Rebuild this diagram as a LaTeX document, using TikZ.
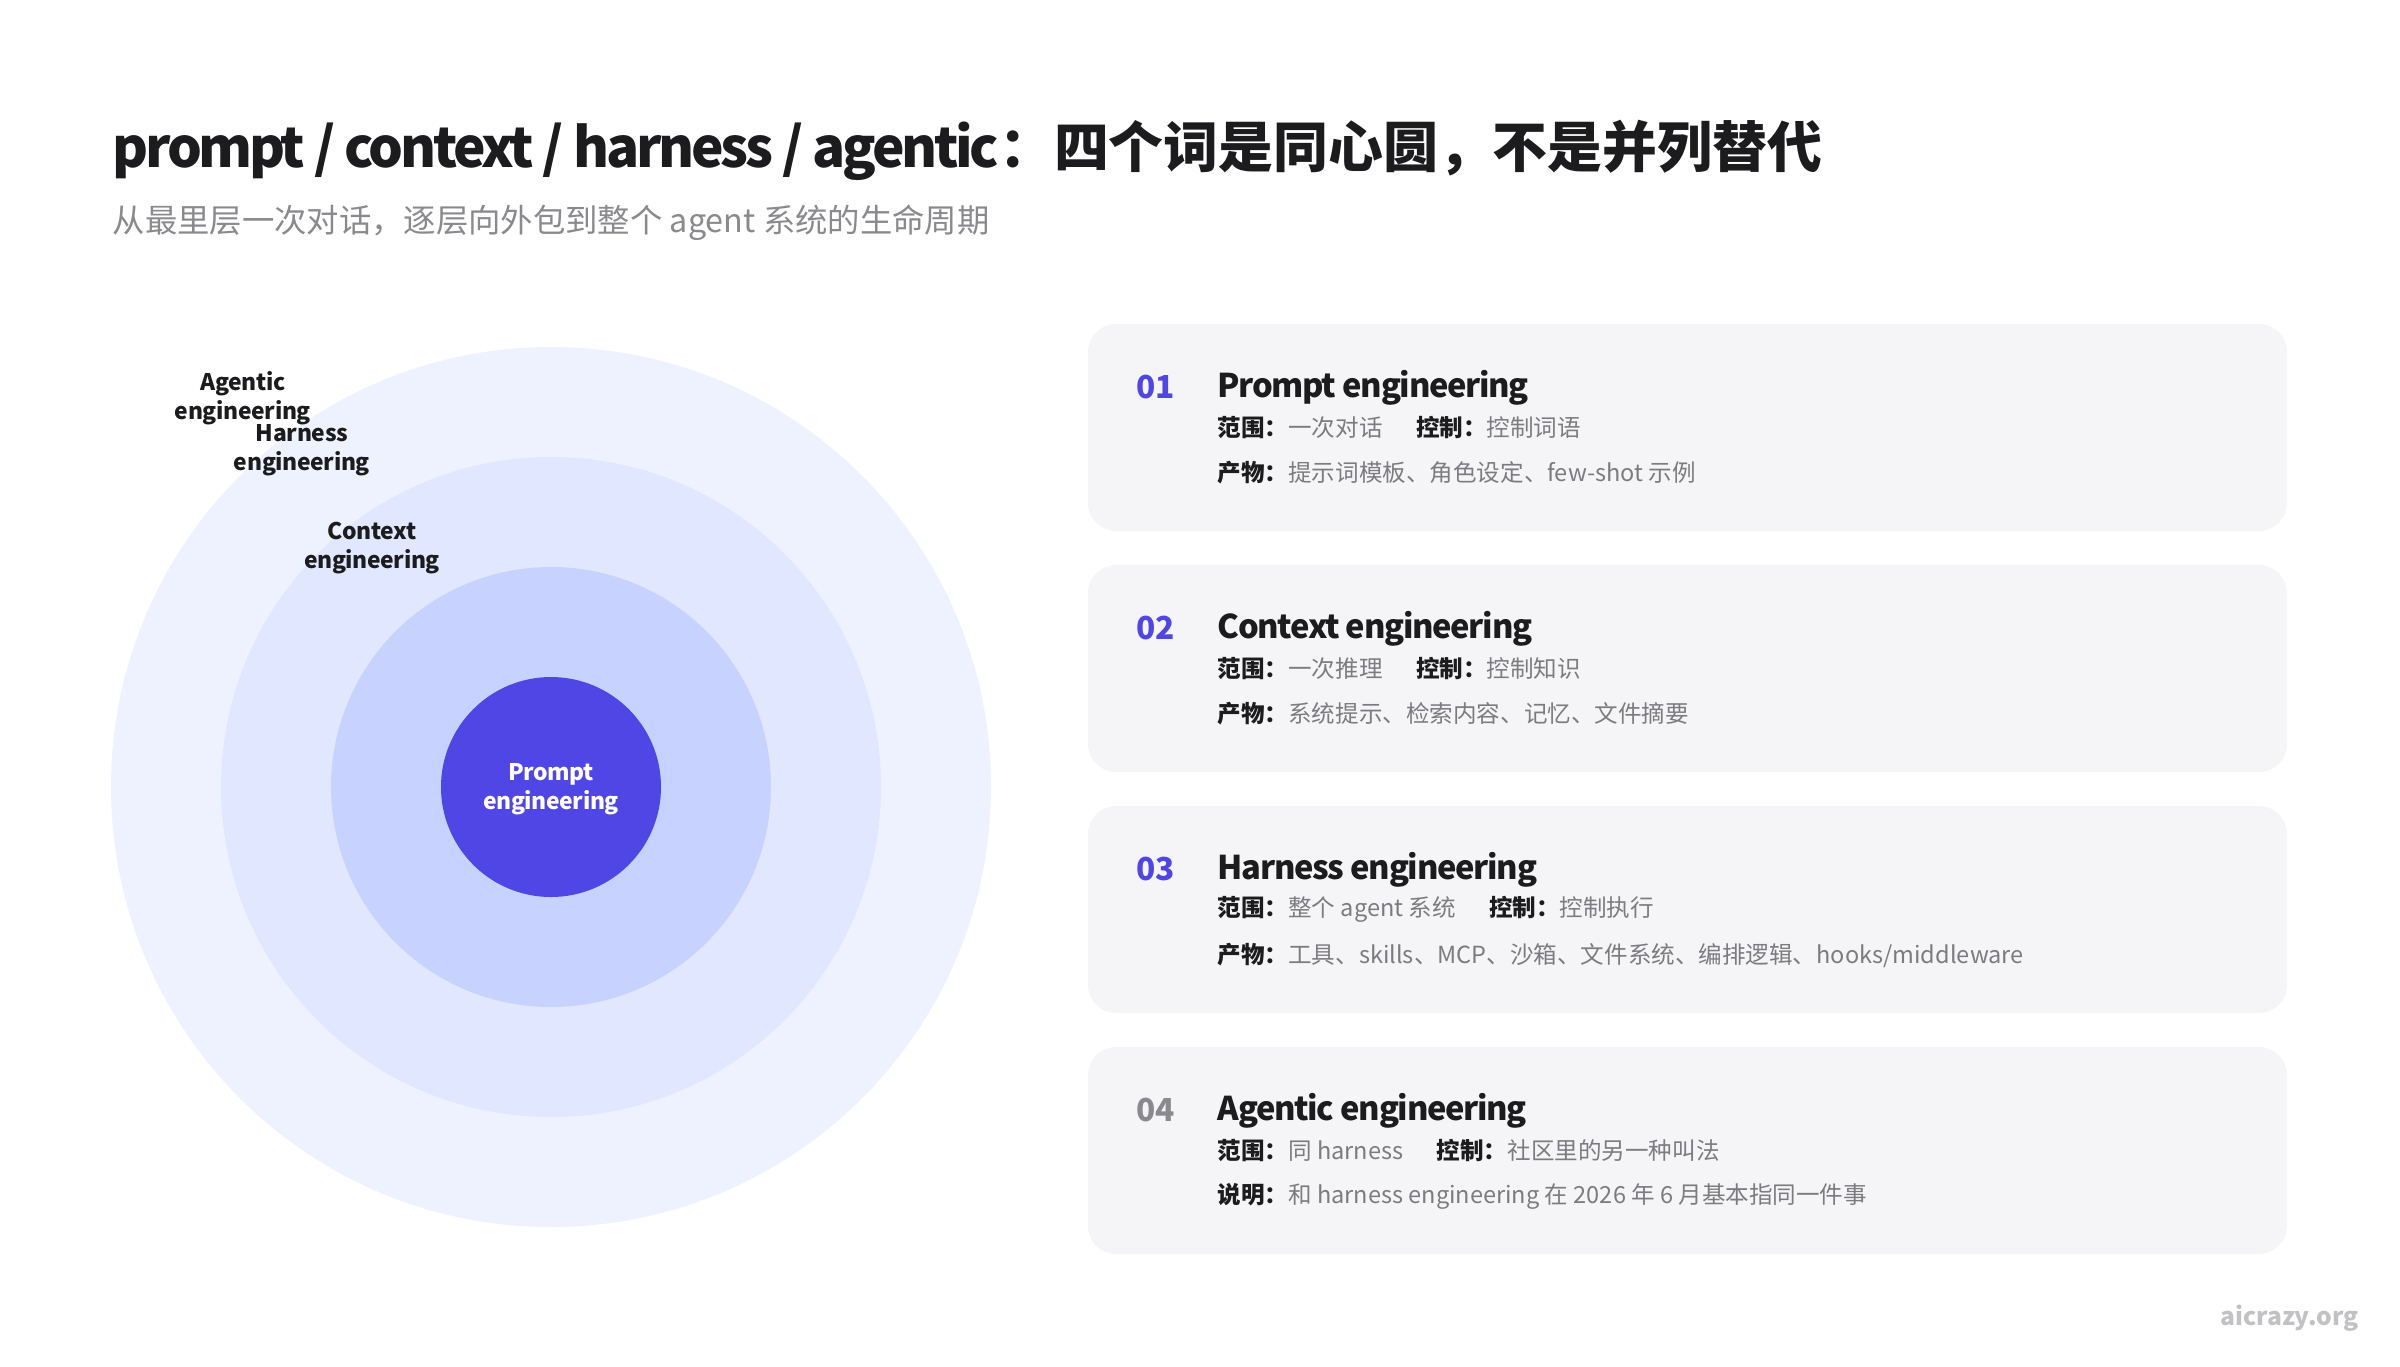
\documentclass[tikz,border=0pt]{standalone}
\usepackage{fontspec}
\setmainfont{Noto Sans CJK SC}
\definecolor{ink}{HTML}{1C1C1E}
\definecolor{muted}{HTML}{7C7C80}
\definecolor{subgray}{HTML}{8A8A8E}
\definecolor{cardbg}{HTML}{F5F5F7}
\definecolor{indigo}{HTML}{4F46E5}
\definecolor{ringA}{HTML}{EEF2FF}
\definecolor{ringB}{HTML}{E0E7FF}
\definecolor{ringC}{HTML}{C7D2FE}
\definecolor{mark}{HTML}{C2C2C4}
\newcommand\fieldkey[1]{{\bfseries #1：}}
\newcommand\fieldval[1]{\textcolor{muted}{#1}}
\newcommand\tight[1]{{\addfontfeature{LetterSpace=-6}#1}}
\begin{document}
\begin{tikzpicture}[x=0.01cm,y=-0.01cm, every node/.style={inner sep=0pt,text=ink},
  card/.style={fill=cardbg, rounded corners=8pt},
  num/.style={anchor=west, font=\fontsize{9}{10}\selectfont\bfseries, text=indigo},
  head/.style={anchor=west, font=\fontsize{9.3}{11}\selectfont\bfseries\addfontfeature{LetterSpace=-4}},
  info/.style={anchor=west, font=\fontsize{6.7}{8}\selectfont},
  ringlabel/.style={align=center, font=\fontsize{6.5}{8.4}\selectfont\bfseries\addfontfeature{LetterSpace=-1.5}}]
\fill[white] (0,0) rectangle (2400,1366);
\useasboundingbox (0,0) rectangle (2400,1366);
\node[anchor=west, font=\fontsize{15.6}{18}\selectfont\bfseries] (title) at (112,150) {\tight{prompt / context / harness / agentic}：四个词是同心圆，不是并列替代};
\node[anchor=west, font=\fontsize{9.2}{11}\selectfont, text=subgray] (subtitle) at (112,223) {从最里层一次对话，逐层向外包到整个 agent 系统的生命周期};
\fill[ringA] (551,787) circle (440);
\fill[ringB] (551,787) circle (330);
\fill[ringC] (551,787) circle (220);
\fill[indigo] (551,787) circle (110);
\node[ringlabel] (agentic) at (243,398) {Agentic\\engineering};
\node[ringlabel] (harness) at (302,450) {Harness\\engineering};
\node[ringlabel] (context) at (372,548) {Context\\engineering};
\node[ringlabel, text=white] (prompt) at (551,789) {Prompt\\engineering};
\fill[card] (1088,324) rectangle (2287,531);
\node[num] (n1) at (1136,387) {01};
\node[head] (h1) at (1217,388) {Prompt engineering};
\node[info] (s1) at (1217,427) {\fieldkey{范围}\fieldval{一次对话}\hspace{9.5pt}\fieldkey{控制}\fieldval{控制词语}};
\node[info] (p1) at (1217,473) {\fieldkey{产物}\fieldval{提示词模板、角色设定、few-shot 示例}};
\fill[card] (1088,565) rectangle (2287,772);
\node[num] (n2) at (1136,628) {02};
\node[head] (h2) at (1217,629) {Context engineering};
\node[info] (s2) at (1217,668) {\fieldkey{范围}\fieldval{一次推理}\hspace{9.5pt}\fieldkey{控制}\fieldval{控制知识}};
\node[info] (p2) at (1217,714) {\fieldkey{产物}\fieldval{系统提示、检索内容、记忆、文件摘要}};
\fill[card] (1088,806) rectangle (2287,1013);
\node[num] (n3) at (1136,869) {03};
\node[head] (h3) at (1217,870) {Harness engineering};
\node[info] (s3) at (1217,909) {\fieldkey{范围}\fieldval{整个 agent 系统}\hspace{9.5pt}\fieldkey{控制}\fieldval{控制执行}};
\node[info] (p3) at (1217,955) {\fieldkey{产物}\fieldval{工具、skills、MCP、沙箱、文件系统、编排逻辑、hooks/middleware}};
\fill[card] (1088,1047) rectangle (2287,1254);
\node[num, text=subgray] (n4) at (1136,1110) {04};
\node[head] (h4) at (1217,1111) {Agentic engineering};
\node[info] (s4) at (1217,1150) {\fieldkey{范围}\fieldval{同 harness}\hspace{9.5pt}\fieldkey{控制}\fieldval{社区里的另一种叫法}};
\node[info] (p4) at (1217,1196) {\fieldkey{说明}\fieldval{和 harness engineering 在 2026 年 6 月基本指同一件事}};
\node[anchor=east, font=\fontsize{7}{8}\selectfont\bfseries, text=mark] (site) at (2359,1318) {aicrazy.org};
\end{tikzpicture}
\end{document}
